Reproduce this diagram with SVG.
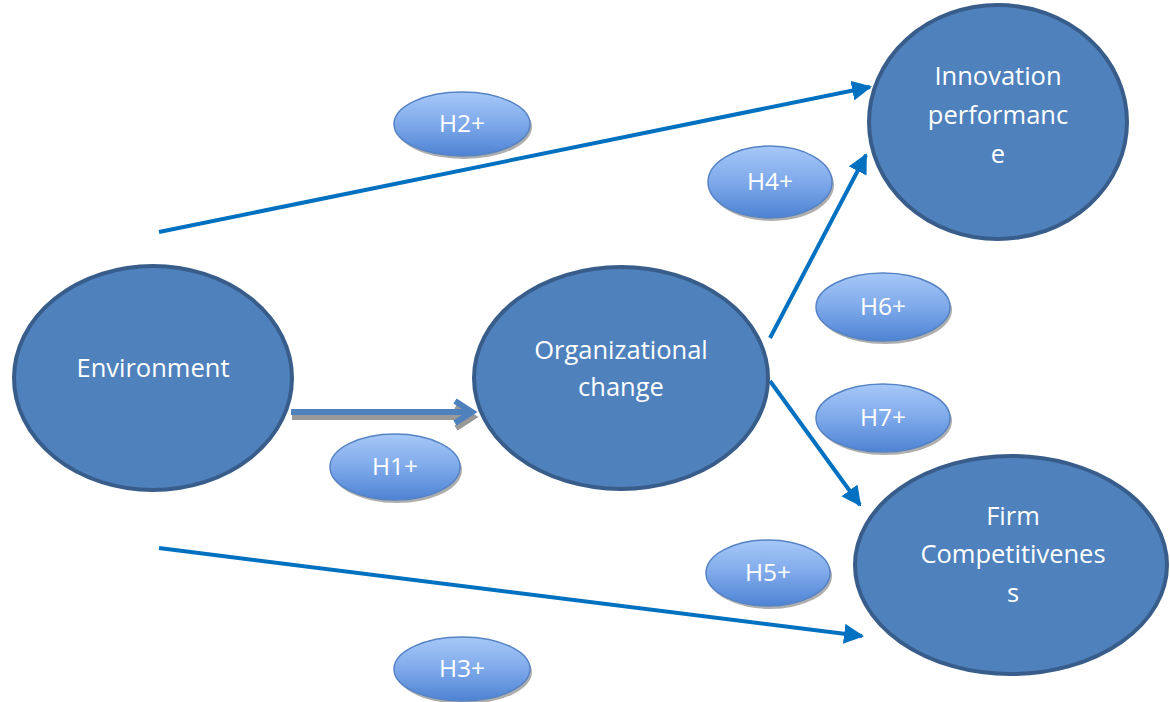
<svg xmlns="http://www.w3.org/2000/svg" width="1170" height="702" viewBox="0 0 1170 702">
<defs>
<linearGradient id="pg" x1="0" y1="0" x2="0" y2="1">
<stop offset="0" stop-color="#A7C8F8"/>
<stop offset="0.5" stop-color="#7EA9EA"/>
<stop offset="1" stop-color="#4E83D3"/>
</linearGradient>
<marker id="ah" viewBox="0 0 10 10" refX="9" refY="5" markerWidth="5" markerHeight="5" markerUnits="strokeWidth" orient="auto">
<path d="M0,0 L10,5 L0,10 Z" fill="#0070C0"/>
</marker>
</defs>
<style>
.node{fill:#4F81BD;stroke:#385D8A;stroke-width:4}
.nt{fill:#fff;font-family:"Open Sans","Liberation Sans",sans-serif;font-size:25.5px;text-anchor:middle}
.pill{fill:url(#pg);stroke:#5583C4;stroke-width:1.5}
.pshadow{fill:#9a9a9a;opacity:0.8}
.pt{fill:#fff;font-family:"Open Sans","Liberation Sans",sans-serif;font-size:24.5px;text-anchor:middle}
.con{stroke:#0070C0;stroke-width:4;fill:none;marker-end:url(#ah)}
</style>
<rect width="1170" height="702" fill="#fff"/>
<g id="connectors">
<line class="con" x1="159" y1="232" x2="870" y2="87"/>
<line class="con" x1="159" y1="548" x2="862" y2="636"/>
<line class="con" x1="770" y1="338" x2="866" y2="155"/>
<line class="con" x1="770" y1="381" x2="860" y2="505"/>
<g id="h1-arrow">
<path d="M291,414 L472,414 M455,403 L472,414 L455,425" stroke="#999" stroke-width="6" fill="none" transform="translate(1,3)"/>
<path d="M291,412 L471,412 M455,401 L472,412 L455,423" stroke="#4F81BD" stroke-width="6" fill="none"/>
</g>
</g>
<g id="environment">
<ellipse class="node" cx="153" cy="378" rx="139" ry="112"/>
<text class="nt" x="153" y="377">Environment</text>
</g>
<g id="organizational-change">
<ellipse class="node" cx="621" cy="378" rx="147" ry="111"/>
<text class="nt" x="621" y="359">Organizational</text>
<text class="nt" x="621" y="396">change</text>
</g>
<g id="innovation-performance">
<ellipse class="node" cx="998" cy="122" rx="129" ry="117"/>
<text class="nt" x="998" y="85">Innovation</text>
<text class="nt" x="998" y="124">performanc</text>
<text class="nt" x="998" y="163">e</text>
</g>
<g id="firm-competitiveness">
<ellipse class="node" cx="1011" cy="565" rx="156" ry="109"/>
<text class="nt" x="1013" y="525">Firm</text>
<text class="nt" x="1013" y="563">Competitivenes</text>
<text class="nt" x="1013" y="602">s</text>
</g>
<g id="h2">
<ellipse class="pshadow" cx="464" cy="127" rx="68" ry="32"/>
<ellipse class="pill" cx="462" cy="124" rx="68" ry="32"/>
<text class="pt" x="462" y="132">H2+</text>
</g>
<g id="h4">
<ellipse class="pshadow" cx="772" cy="185" rx="62" ry="36"/>
<ellipse class="pill" cx="770" cy="182" rx="62" ry="36"/>
<text class="pt" x="770" y="190">H4+</text>
</g>
<g id="h6">
<ellipse class="pshadow" cx="885" cy="310" rx="67" ry="34"/>
<ellipse class="pill" cx="883" cy="307" rx="67" ry="34"/>
<text class="pt" x="883" y="315">H6+</text>
</g>
<g id="h7">
<ellipse class="pshadow" cx="885" cy="421" rx="67" ry="34"/>
<ellipse class="pill" cx="883" cy="418" rx="67" ry="34"/>
<text class="pt" x="883" y="426">H7+</text>
</g>
<g id="h1">
<ellipse class="pshadow" cx="397" cy="470" rx="65" ry="33"/>
<ellipse class="pill" cx="395" cy="467" rx="65" ry="33"/>
<text class="pt" x="395" y="475">H1+</text>
</g>
<g id="h5">
<ellipse class="pshadow" cx="770" cy="576" rx="62" ry="33"/>
<ellipse class="pill" cx="768" cy="573" rx="62" ry="33"/>
<text class="pt" x="768" y="581">H5+</text>
</g>
<g id="h3">
<ellipse class="pshadow" cx="464" cy="672" rx="68" ry="32"/>
<ellipse class="pill" cx="462" cy="669" rx="68" ry="32"/>
<text class="pt" x="462" y="677">H3+</text>
</g>
</svg>
